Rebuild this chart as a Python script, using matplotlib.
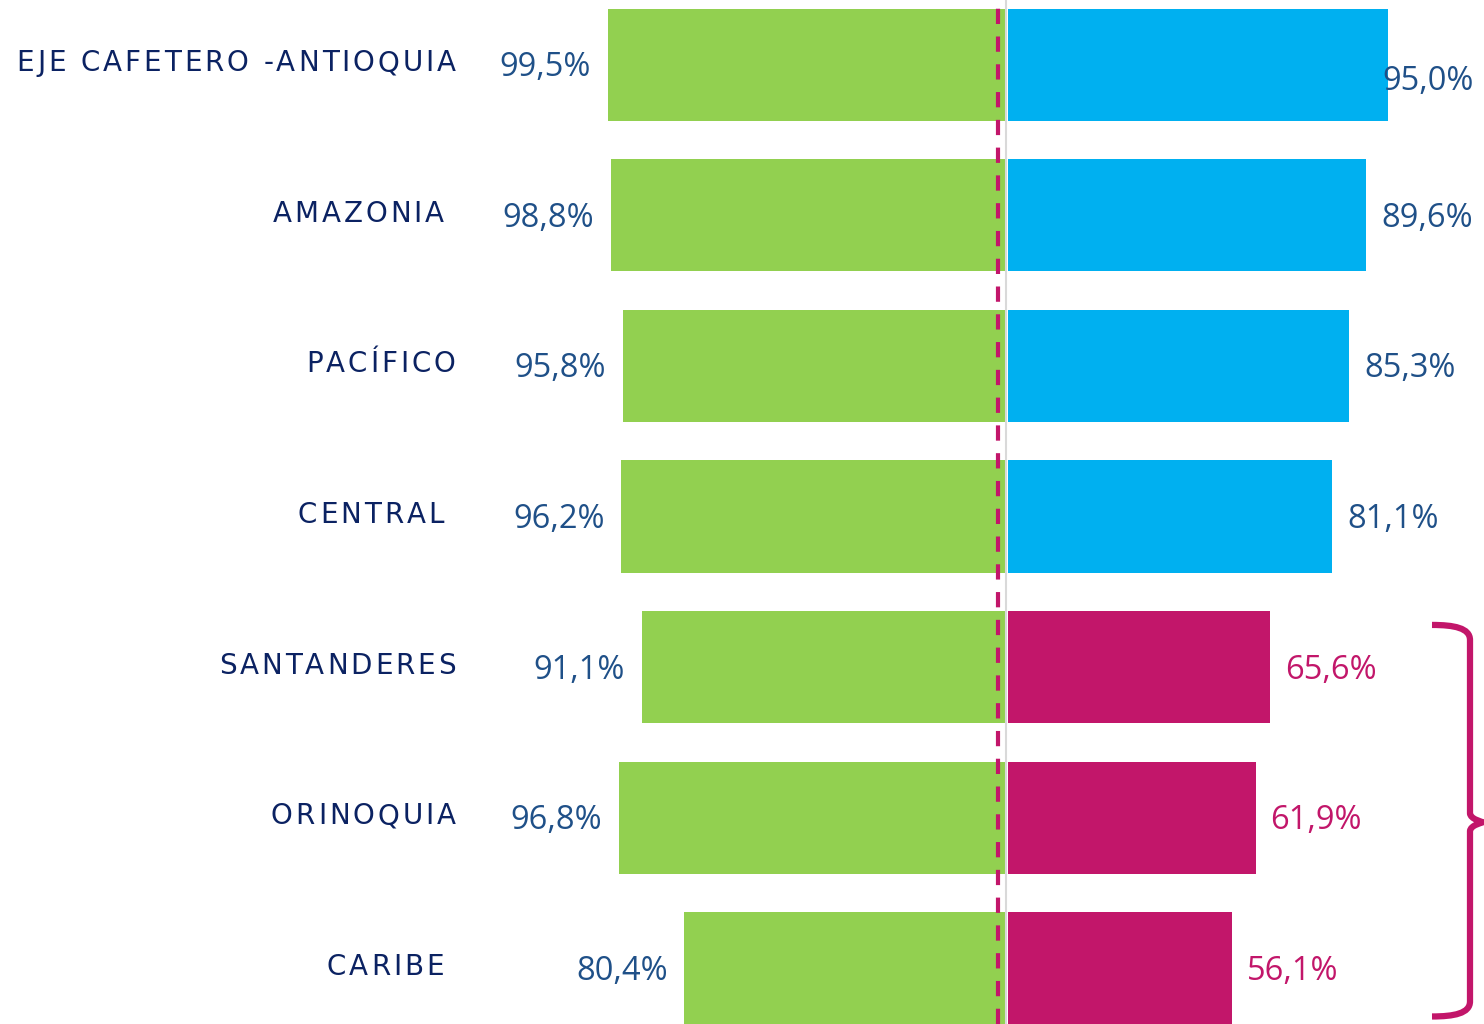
import matplotlib
matplotlib.use('Agg')
from matplotlib import pyplot as plt
from matplotlib.path import Path
from matplotlib.patches import PathPatch
from matplotlib.font_manager import FontProperties
from matplotlib.textpath import text_to_path
import numpy as np

regions = ['EJE CAFETERO -ANTIOQUIA', 'AMAZONIA ', 'PACÍFICO', 'CENTRAL ',
           'SANTANDERES', 'ORINOQUIA', 'CARIBE ']
left_values = [99.5, 98.8, 95.8, 96.2, 91.1, 96.8, 80.4]
right_values = [95.0, 89.6, 85.3, 81.1, 65.6, 61.9, 56.1]
highlight = [False, False, False, False, True, True, True]

GREEN = '#92D050'
BLUE = '#00B0F0'
MAGENTA = '#C2166A'
TEXT_BLUE = '#1F5088'
NAVY = '#0B2262'

plt.rcParams['lines.scale_dashes'] = False

fig = plt.figure(figsize=(14.84, 10.24), dpi=100)
ax = fig.add_axes([0, 0, 1, 1])
ax.set_xlim(-251.5, 119.5)
ax.set_ylim(6.37, -0.43)
ax.axis('off')

y = np.arange(len(regions))
right_colors = [MAGENTA if h else BLUE for h in highlight]
ax.barh(y, [-v for v in left_values], height=0.745, left=0, color=GREEN)
ax.barh(y, right_values, height=0.745, left=0.5, color=right_colors)

ax.axvline(0, color='#D9D9D9', lw=1.5, zorder=3)
ax.axvline(-2, color=MAGENTA, lw=3, dashes=(11, 9), zorder=4)


def spaced_label(text, x, yy, prop, tracking, **kw):
    # draw text right-aligned at x with extra letter spacing (points)
    widths = [text_to_path.get_text_width_height_descent(c, prop, ismath=False)[0]
              for c in text]
    total = sum(widths) + tracking * (len(text) - 1)
    off = -total
    for c, w in zip(text, widths):
        ax.annotate(c, xy=(x, yy), xytext=(off, 0), textcoords='offset points',
                    ha='left', va='center', fontproperties=prop, **kw)
        off += w + tracking


label_prop = FontProperties(family='DejaVu Sans', size=20)
num_font = dict(family='Open Sans', fontsize=23.5)
for i, (lv, rv, h) in enumerate(zip(left_values, right_values, highlight)):
    ax.text(-lv - 4.2, i + 0.02, f'{lv:.1f}%'.replace('.', ','), ha='right', va='center',
            color=TEXT_BLUE, **num_font)
    txt = f'{rv:.1f}%'.replace('.', ',')
    col = MAGENTA if h else TEXT_BLUE
    if rv + 4 + 23 > 119:
        ax.text(117, i + 0.11, txt, ha='right', va='center', color=col, **num_font)
    else:
        ax.text(rv + 4.2, i + 0.02, txt, ha='left', va='center', color=col, **num_font)
    spaced_label(regions[i], -137.6, i - 0.01, label_prop, 2.1, color=NAVY)

# curly brace on the highlighted regions
x0, xv, xt = 106.5, 116, 119.3
top, mid, bot = 3.72, 5.03, 6.32
verts = [(x0, top), (112, top), (xv, top + 0.02), (xv, top + 0.1),
         (xv, mid - 0.06), (xv, mid - 0.02), (xt, mid), (xt, mid),
         (xt, mid), (xv, mid + 0.02), (xv, mid + 0.06),
         (xv, bot - 0.1), (xv, bot - 0.02), (112, bot), (x0, bot)]
codes = [Path.MOVETO, Path.CURVE4, Path.CURVE4, Path.CURVE4,
         Path.LINETO, Path.CURVE4, Path.CURVE4, Path.CURVE4,
         Path.CURVE4, Path.CURVE4, Path.CURVE4,
         Path.LINETO, Path.CURVE4, Path.CURVE4, Path.CURVE4]
ax.add_patch(PathPatch(Path(verts, codes), fill=False, edgecolor=MAGENTA, lw=4.5,
                       capstyle='butt', joinstyle='round'))

fig.savefig('out.png', dpi=100)
